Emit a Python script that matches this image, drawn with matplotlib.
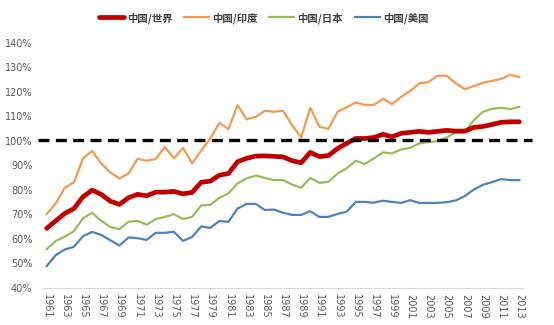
import numpy as np
import matplotlib
matplotlib.use("Agg")
import matplotlib.pyplot as plt
import matplotlib.transforms as mtransforms

plt.rcParams['font.family'] = ['Noto Sans CJK SC', 'DejaVu Sans']

years = list(range(1961, 2014))

# ratio of China's value to each comparison, in percent
china_world = [64.3, 67.4, 70.4, 72.4, 77.2, 79.9, 78.2, 75.4, 74.1, 76.8,
               78.2, 77.6, 79.1, 79.1, 79.4, 78.4, 79.0, 83.1, 83.6, 86.0,
               86.7, 91.5, 92.9, 93.8, 93.9, 93.7, 93.5, 91.9, 91.1, 95.3,
               93.6, 94.0, 96.9, 99.0, 101.0, 101.0, 101.4, 102.7, 101.7, 103.1,
               103.5, 103.9, 103.5, 103.9, 104.3, 104.0, 104.0, 105.5, 105.9, 106.7,
               107.6, 107.8, 107.8]
china_india = [70.1, 74.5, 80.9, 83.1, 92.9, 95.9, 90.8, 87.1, 84.7, 86.7,
               92.7, 91.9, 92.6, 97.6, 92.9, 97.2, 90.8, 96.0, 101.0, 107.4,
               104.8, 114.6, 108.8, 109.8, 112.3, 111.9, 112.3, 106.4, 101.4, 113.5,
               105.8, 104.9, 111.9, 113.7, 115.7, 114.7, 114.7, 117.2, 115.1, 118.0,
               120.4, 123.5, 124.0, 126.6, 126.6, 123.5, 121.1, 122.4, 123.7, 124.5,
               125.3, 127.0, 126.0]
china_japan = [55.8, 59.2, 60.9, 63.2, 68.4, 70.7, 67.4, 64.9, 64.0, 67.0,
               67.4, 65.8, 68.1, 69.0, 70.1, 68.1, 69.0, 73.7, 73.9, 76.8,
               78.6, 82.7, 84.7, 85.9, 84.9, 84.0, 84.0, 82.2, 80.9, 84.9,
               82.9, 83.3, 86.7, 88.8, 91.9, 90.6, 92.9, 95.3, 94.9, 96.5,
               97.2, 99.0, 99.5, 99.9, 101.4, 103.5, 103.5, 108.5, 111.9, 113.1,
               113.5, 113.0, 113.9]
china_usa = [48.9, 53.4, 55.7, 56.8, 61.1, 62.9, 61.6, 59.5, 57.3, 60.6,
             60.3, 59.6, 62.5, 62.5, 62.9, 59.2, 60.8, 65.1, 64.5, 67.3,
             67.0, 72.4, 74.3, 74.3, 71.8, 72.0, 70.7, 69.8, 69.8, 71.3,
             69.0, 69.0, 70.2, 71.1, 75.1, 75.1, 74.8, 75.6, 75.1, 74.7,
             75.8, 74.7, 74.7, 74.7, 75.0, 75.7, 77.5, 80.2, 82.1, 83.2,
             84.4, 84.0, 84.0]

labels = ['中国/世界', '中国/印度', '中国/日本', '中国/美国']
colors = ['#C00000', '#F39A50', '#9BBB59', '#4F81BD']
year_ticks = list(range(1961, 2014, 2))
pct_ticks = list(range(40, 141, 10))

fig = plt.figure(figsize=(5.54, 3.25), dpi=100)
ax = fig.add_axes([0.076, 0.114, 0.868, 0.754])

series = [china_india, china_japan, china_usa]
for vals, lab, col in zip(series, labels[1:], colors[1:]):
    ax.plot(years, vals, color=col, lw=1.6, label=lab, zorder=2)
ax.plot(years, china_world, color=colors[0], lw=3.4, label=labels[0],
        solid_capstyle='round', zorder=3)

# parity reference line, running past both ends of the axis
trans = mtransforms.blended_transform_factory(ax.transAxes, ax.transData)
ax.plot([-0.008, 1.018], [100.5, 100.5], transform=trans, color='black',
        lw=2.4, linestyle=(0, (3.3, 1.9)), clip_on=False, zorder=4)

ax.set_xlim(1960.5, 2013.4)
ax.set_ylim(40, 140)
ax.set_xticks(year_ticks)
ax.set_xticklabels([str(y) for y in year_ticks], rotation=-90,
                   family='DejaVu Sans', fontsize=7, color='#595959')
ax.set_yticks(pct_ticks)
ax.set_yticklabels([f'{v}%' for v in pct_ticks], family='DejaVu Sans',
                   fontsize=7, color='#595959')
ax.tick_params(axis='both', length=0)
ax.tick_params(axis='y', pad=7)
ax.tick_params(axis='x', pad=4)

for side in ['top', 'right', 'left']:
    ax.spines[side].set_visible(False)
ax.spines['bottom'].set_color('#D9D9D9')

handles, labs = ax.get_legend_handles_labels()
order = [3, 0, 1, 2]
fig.legend([handles[i] for i in order], [labs[i] for i in order],
           loc='center', bbox_to_anchor=(0.476, 0.945), ncol=4, frameon=False,
           prop={'size': 7.5, 'weight': 'bold'}, handlelength=2.4,
           handletextpad=0.3, columnspacing=1.1, labelcolor='#404040')

fig.savefig('out.png', dpi=100)
